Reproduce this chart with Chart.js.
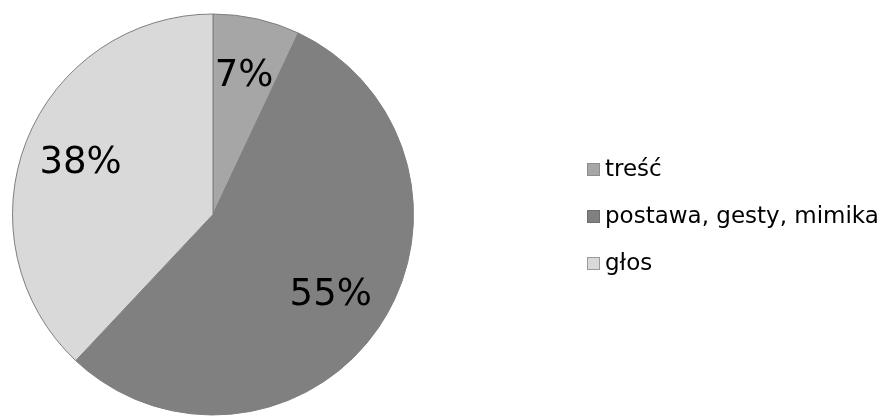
<!DOCTYPE html>
<html>
<head>
<meta charset="utf-8">
<script src="https://cdn.jsdelivr.net/npm/chart.js@4/dist/chart.umd.min.js"></script>
<style>
  html, body { margin: 0; padding: 0; background: #fff; }
  #wrap { width: 883px; height: 416px; position: relative; }
</style>
</head>
<body>
<div id="wrap"><canvas id="pie"></canvas></div>
<script>
const categories = ['treść', 'postawa, gesty, mimika', 'głos']
const shares = [7, 55, 38]
const colors = ['#a6a6a6', '#808080', '#d9d9d9']
const edgeColors = ['#8c8c8c', '#6e6e6e', '#9a9a9a']

// percent labels inside each slice
const sliceLabels = {
    id: 'sliceLabels',
    afterDatasetsDraw(chart) {
        const { ctx } = chart
        const meta = chart.getDatasetMeta(0)
        ctx.save()
        ctx.font = '37px "DejaVu Sans", Verdana, sans-serif'
        ctx.fillStyle = '#000'
        ctx.textAlign = 'center'
        ctx.textBaseline = 'middle'
        meta.data.forEach((arc, i) => {
            const p = arc.getProps(['x', 'y', 'startAngle', 'endAngle', 'outerRadius'], true)
            const mid = (p.startAngle + p.endAngle) / 2
            const r = p.outerRadius * 0.71
            ctx.fillText(shares[i] + '%', p.x + Math.cos(mid) * r, p.y + Math.sin(mid) * r + 1)
        })
        ctx.restore()
    }
}

// legend on the right, drawn by hand
const sideLegend = {
    id: 'sideLegend',
    afterDraw(chart) {
        const { ctx } = chart
        ctx.save()
        ctx.font = '23px "DejaVu Sans", Verdana, sans-serif'
        ctx.textBaseline = 'middle'
        categories.forEach((name, i) => {
            const y = 170 + i * 47
            ctx.fillStyle = colors[i]
            ctx.fillRect(587.5, y - 6.5, 12, 12)
            ctx.strokeStyle = edgeColors[i]
            ctx.lineWidth = 1
            ctx.strokeRect(587.5, y - 6.5, 12, 12)
            ctx.fillStyle = '#000'
            ctx.fillText(name, 605, y)
        })
        ctx.restore()
    }
}

new Chart(document.getElementById('pie'), {
    type: 'pie',
    data: {
        labels: categories,
        datasets: [{
            data: shares,
            backgroundColor: colors,
            borderColor: '#7f7f7f',
            borderWidth: 1
        }]
    },
    options: {
        responsive: true,
        maintainAspectRatio: false,
        animation: false,
        layout: { padding: { left: 12, top: 13, right: 469, bottom: 0 } },
        plugins: {
            legend: { display: false },
            tooltip: { enabled: false }
        }
    },
    plugins: [sliceLabels, sideLegend]
})
</script>
</body>
</html>
